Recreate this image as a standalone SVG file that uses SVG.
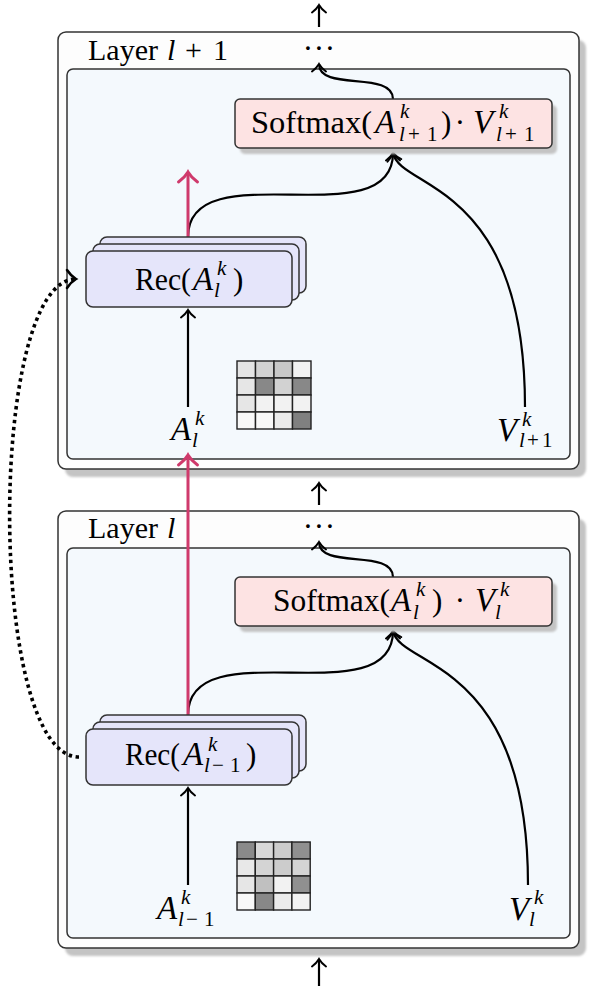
<svg xmlns="http://www.w3.org/2000/svg" width="598" height="986" viewBox="0 0 598 986">
<style>
.t{font-family:"Liberation Serif","Times New Roman",serif;font-size:31px;fill:#000}
.lay{font-size:30px}
.i{font-style:italic}
.big{font-size:33px}
.s{font-size:21px}
.outer{fill:#fdfdfd;stroke:#333;stroke-width:1.5}
.inner{fill:#f4f9fd;stroke:#333;stroke-width:1.5}
.shadow{fill:#c4c4c4}
.soft{fill:#fde3e3;stroke:#333;stroke-width:1.5}
.rec{fill:#e5e5fa;stroke:#333;stroke-width:1.5}
.c{fill:none;stroke:#000;stroke-width:2.2}
.m{fill:none;stroke:#cf3a6c;stroke-width:3}
.dot{fill:none;stroke:#000;stroke-width:3.6;stroke-dasharray:3.4 3.6}
.g{stroke:#222;stroke-width:1.4}
</style>
<defs>
<filter id="blur" x="-10%" y="-10%" width="120%" height="120%"><feGaussianBlur stdDeviation="1.2"/></filter>
<marker id="arr" viewBox="-12 -12 24 24" markerWidth="24" markerHeight="24" refX="0" refY="0" orient="auto" markerUnits="userSpaceOnUse">
<path d="M-7.5,-7 C-4.5,-2.8 -1.5,-0.9 0,0 C-1.5,0.9 -4.5,2.8 -7.5,7" fill="none" stroke="#000" stroke-width="2" stroke-linecap="round" stroke-dasharray="none"/>
</marker>
<marker id="arrd" viewBox="-14 -14 28 28" markerWidth="28" markerHeight="28" refX="0" refY="0" orient="auto" markerUnits="userSpaceOnUse">
<path d="M-9,-9 C-5.5,-3.6 -1.8,-1.1 0,0 C-1.8,1.1 -5.5,3.6 -9,9" fill="none" stroke="#000" stroke-width="2.6" stroke-linecap="round" stroke-dasharray="none"/>
</marker>
<marker id="arrm" viewBox="-14 -14 28 28" markerWidth="28" markerHeight="28" refX="0" refY="0" orient="auto" markerUnits="userSpaceOnUse">
<path d="M-10,-9.5 C-6,-3.8 -2,-1.2 0,0 C-2,1.2 -6,3.8 -10,9.5" fill="none" stroke="#cf3a6c" stroke-width="3" stroke-linecap="round"/>
</marker>
</defs>

<g id="layer-l1">
<rect class="shadow" x="65" y="40" width="521" height="437" rx="8" filter="url(#blur)"/>
<rect class="outer" x="58" y="32" width="521" height="437" rx="8"/>
<rect class="inner" x="67" y="69" width="503" height="390" rx="6"/>
<text class="t lay" y="60"><tspan x="88">Layer</tspan><tspan x="167" class="i">l</tspan><tspan x="185">+</tspan><tspan x="213">1</tspan></text>
<text class="t" x="308 319 330" y="59" text-anchor="middle">···</text>
</g>

<g id="layer-l">
<rect class="shadow" x="65" y="519" width="521" height="437" rx="8" filter="url(#blur)"/>
<rect class="outer" x="58" y="511" width="521" height="437" rx="8"/>
<rect class="inner" x="67" y="548" width="503" height="390" rx="6"/>
<text class="t lay" y="538"><tspan x="88">Layer</tspan><tspan x="167" class="i">l</tspan></text>
<text class="t" x="308 319 330" y="537" text-anchor="middle">···</text>
</g>

<g id="connectors">
<path class="c" d="M319,27 L319,5" marker-end="url(#arr)"/>
<path class="c" d="M319,505 L319,483" marker-end="url(#arr)"/>
<path class="c" d="M319,986 L319,959" marker-end="url(#arr)"/>
<path class="c" d="M393,99 C393,70 319,92 319,64" marker-end="url(#arr)"/>
<path class="c" d="M393,577 C393,548 319,570 319,542" marker-end="url(#arr)"/>
<path class="c" d="M188,237 C188,150 393,239 393,153" marker-end="url(#arr)"/>
<path class="c" d="M525,407 C525,180 400,190 393,153" marker-end="url(#arr)"/>
<path class="c" d="M188,715 C188,628 393,717 393,631" marker-end="url(#arr)"/>
<path class="c" d="M528,885 C528,658 400,668 393,631" marker-end="url(#arr)"/>
<path class="c" d="M188,407 L188,310" marker-end="url(#arr)"/>
<path class="c" d="M188,885 L188,788" marker-end="url(#arr)"/>
<path class="m" d="M188,237 L188,172" marker-end="url(#arrm)"/>
<path class="m" d="M188,715 L188,455" marker-end="url(#arrm)"/>
<path class="dot" d="M79,757 C-13,757 -13,279 76,279" marker-end="url(#arrd)"/>
</g>

<g id="softmax-l1">
<rect class="shadow" x="240" y="105" width="317" height="49" rx="5" filter="url(#blur)"/>
<rect class="soft" x="235" y="99" width="317" height="49" rx="5"/>
<text class="t" x="251" y="133" textLength="121" lengthAdjust="spacingAndGlyphs">Softmax(</text>
<text class="t i big" x="375" y="133">A</text>
<text class="t i s" x="400" y="118">k</text>
<text class="t s" y="141"><tspan x="399" class="i">l</tspan><tspan x="408">+</tspan><tspan x="427">1</tspan></text>
<text class="t" x="441" y="133">)</text>
<text class="t" x="460" y="133" text-anchor="middle">·</text>
<text class="t i big" x="473" y="133">V</text>
<text class="t i s" x="499" y="118">k</text>
<text class="t s" y="141"><tspan x="496" class="i">l</tspan><tspan x="505">+</tspan><tspan x="524">1</tspan></text>
</g>

<g id="softmax-l">
<rect class="shadow" x="240" y="583" width="317" height="49" rx="5" filter="url(#blur)"/>
<rect class="soft" x="235" y="577" width="317" height="49" rx="5"/>
<text class="t" x="273" y="611" textLength="117" lengthAdjust="spacingAndGlyphs">Softmax(</text>
<text class="t i big" x="391" y="611">A</text>
<text class="t i s" x="416" y="596">k</text>
<text class="t i s" x="413" y="619">l</text>
<text class="t" x="432" y="611">)</text>
<text class="t" x="460" y="611" text-anchor="middle">·</text>
<text class="t i big" x="475" y="611">V</text>
<text class="t i s" x="500" y="596">k</text>
<text class="t i s" x="495" y="619">l</text>
</g>

<g id="rec-l1">
<rect class="rec" x="100" y="237" width="206" height="56" rx="7"/>
<rect class="rec" x="93" y="244" width="206" height="56" rx="7"/>
<rect class="rec" x="86" y="251" width="206" height="56" rx="7"/>
<text class="t" x="135" y="290" textLength="56" lengthAdjust="spacingAndGlyphs">Rec(</text>
<text class="t i big" x="193" y="290">A</text>
<text class="t i s" x="217" y="275">k</text>
<text class="t i s" x="214" y="297">l</text>
<text class="t" x="233" y="290">)</text>
</g>

<g id="rec-l">
<rect class="rec" x="100" y="715" width="206" height="56" rx="7"/>
<rect class="rec" x="93" y="722" width="206" height="56" rx="7"/>
<rect class="rec" x="86" y="729" width="206" height="56" rx="7"/>
<text class="t" x="125" y="765" textLength="55" lengthAdjust="spacingAndGlyphs">Rec(</text>
<text class="t i big" x="183" y="765">A</text>
<text class="t i s" x="208" y="751">k</text>
<text class="t s" y="772"><tspan x="204" class="i">l</tspan><tspan x="212">−</tspan><tspan x="230">1</tspan></text>
<text class="t" x="246" y="765">)</text>
</g>

<g id="label-A-l">
<text class="t i big" x="171" y="440">A</text>
<text class="t i s" x="195" y="425">k</text>
<text class="t i s" x="192" y="447">l</text>
</g>

<g id="label-A-l-1">
<text class="t i big" x="157" y="919">A</text>
<text class="t i s" x="181" y="904">k</text>
<text class="t s" y="926"><tspan x="178" class="i">l</tspan><tspan x="186">−</tspan><tspan x="204">1</tspan></text>
</g>

<g id="label-V-l1">
<text class="t i big" x="497" y="441">V</text>
<text class="t i s" x="522" y="426">k</text>
<text class="t s" y="447"><tspan x="519" class="i">l</tspan><tspan x="527">+</tspan><tspan x="542">1</tspan></text>
</g>

<g id="label-V-l">
<text class="t i big" x="509" y="920">V</text>
<text class="t i s" x="534" y="904">k</text>
<text class="t i s" x="529" y="926">l</text>
</g>

<g id="matrix-l1" class="g">
<rect x="237" y="361" width="18.5" height="17" fill="#e4e4e4"/>
<rect x="255.5" y="361" width="18.5" height="17" fill="#d2d2d2"/>
<rect x="274" y="361" width="18.5" height="17" fill="#c8c8c8"/>
<rect x="292.5" y="361" width="18.5" height="17" fill="#f2f2f2"/>
<rect x="237" y="378" width="18.5" height="17" fill="#e6e6e6"/>
<rect x="255.5" y="378" width="18.5" height="17" fill="#888888"/>
<rect x="274" y="378" width="18.5" height="17" fill="#d2d2d2"/>
<rect x="292.5" y="378" width="18.5" height="17" fill="#888888"/>
<rect x="237" y="395" width="18.5" height="17" fill="#e6e6e6"/>
<rect x="255.5" y="395" width="18.5" height="17" fill="#f2f2f2"/>
<rect x="274" y="395" width="18.5" height="17" fill="#f2f2f2"/>
<rect x="292.5" y="395" width="18.5" height="17" fill="#f2f2f2"/>
<rect x="237" y="412" width="18.5" height="17" fill="#f8f8f8"/>
<rect x="255.5" y="412" width="18.5" height="17" fill="#f8f8f8"/>
<rect x="274" y="412" width="18.5" height="17" fill="#ebebeb"/>
<rect x="292.5" y="412" width="18.5" height="17" fill="#808080"/>
</g>

<g id="matrix-l" class="g">
<rect x="237" y="842" width="18.3" height="17" fill="#8a8a8a"/>
<rect x="255.3" y="842" width="18.3" height="17" fill="#d8d8d8"/>
<rect x="273.6" y="842" width="18.3" height="17" fill="#cccccc"/>
<rect x="291.9" y="842" width="18.3" height="17" fill="#909090"/>
<rect x="237" y="859" width="18.3" height="17" fill="#e8e8e8"/>
<rect x="255.3" y="859" width="18.3" height="17" fill="#d4d4d4"/>
<rect x="273.6" y="859" width="18.3" height="17" fill="#cccccc"/>
<rect x="291.9" y="859" width="18.3" height="17" fill="#d4d4d4"/>
<rect x="237" y="876" width="18.3" height="17" fill="#e6e6e6"/>
<rect x="255.3" y="876" width="18.3" height="17" fill="#c0c0c0"/>
<rect x="273.6" y="876" width="18.3" height="17" fill="#f2f2f2"/>
<rect x="291.9" y="876" width="18.3" height="17" fill="#909090"/>
<rect x="237" y="893" width="18.3" height="17" fill="#f8f8f8"/>
<rect x="255.3" y="893" width="18.3" height="17" fill="#888888"/>
<rect x="273.6" y="893" width="18.3" height="17" fill="#ebebeb"/>
<rect x="291.9" y="893" width="18.3" height="17" fill="#f2f2f2"/>
</g>
</svg>
